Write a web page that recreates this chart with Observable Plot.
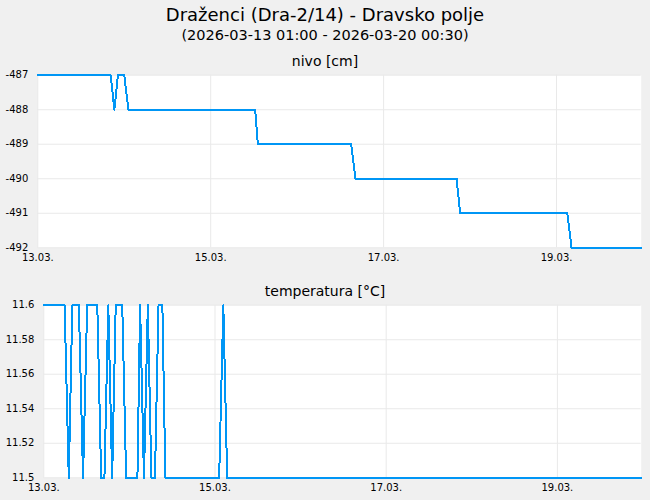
<!DOCTYPE html>
<html>
<head>
<meta charset="utf-8">
<script src="https://cdn.jsdelivr.net/npm/d3@7"></script>
<script src="https://cdn.jsdelivr.net/npm/@observablehq/plot@0.6"></script>
<style>
  html, body { margin: 0; padding: 0; background: #f0f0f0; }
  #wrap { position: relative; width: 650px; height: 500px; background: #f0f0f0; font-family: "DejaVu Sans", sans-serif; color: #000; overflow: hidden; }
  .txt { position: absolute; left: 0; width: 650px; text-align: center; white-space: nowrap; }
  .chart { position: absolute; left: 0; }
  .chart svg { background: transparent !important; }
  .chart path.ln { shape-rendering: crispEdges; }
</style>
</head>
<body>
<div id="wrap">
  <div class="txt" id="title" style="top:6px;font-size:18px;line-height:18px;"></div>
  <div class="txt" id="subtitle" style="top:28px;font-size:14.5px;line-height:14.5px;"></div>
  <div class="txt" id="t1" style="top:54px;font-size:14px;line-height:14px;"></div>
  <div class="chart" id="c1" style="top:66px;"></div>
  <div class="txt" id="t2" style="top:284px;font-size:14px;line-height:14px;"></div>
  <div class="chart" id="c2" style="top:296px;"></div>
</div>
<script>
const titleText = "Draženci (Dra-2/14) - Dravsko polje";
const subtitleText = "(2026-03-13 01:00 - 2026-03-20 00:30)";
const levelTitle = "nivo [cm]";
const tempTitle = "temperatura [°C]";

const xDomain = ["2026-03-13T00:00Z", "2026-03-19T23:30Z"];
const xTicks = ["2026-03-13T00:00Z", "2026-03-15T00:00Z", "2026-03-17T00:00Z", "2026-03-19T00:00Z"];
const xTickLabels = ["13.03.", "15.03.", "17.03.", "19.03."];

const levelTicks = [-487, -488, -489, -490, -491, -492];
const levelTimes = [
  "2026-03-13T00:00Z", "2026-03-13T20:15Z", "2026-03-13T21:15Z", "2026-03-13T22:15Z",
  "2026-03-14T00:00Z", "2026-03-14T01:10Z", "2026-03-15T12:20Z", "2026-03-15T13:05Z",
  "2026-03-16T15:00Z", "2026-03-16T16:10Z", "2026-03-17T20:15Z", "2026-03-17T21:15Z",
  "2026-03-19T03:00Z", "2026-03-19T04:10Z", "2026-03-19T23:30Z"
];
const levelValues = [
  -487, -487, -488, -487,
  -487, -488, -488, -489,
  -489, -490, -490, -491,
  -491, -492, -492
];

const tempTicks = [11.6, 11.58, 11.56, 11.54, 11.52, 11.5];
const tempTimes = [
  "2026-03-13T00:00Z", "2026-03-13T05:50Z", "2026-03-13T07:00Z", "2026-03-13T08:00Z",
  "2026-03-13T09:50Z", "2026-03-13T11:00Z", "2026-03-13T12:10Z", "2026-03-13T15:00Z",
  "2026-03-13T16:05Z", "2026-03-13T17:00Z", "2026-03-13T18:05Z", "2026-03-13T19:10Z",
  "2026-03-13T20:10Z", "2026-03-13T22:00Z", "2026-03-13T23:05Z", "2026-03-14T02:15Z",
  "2026-03-14T03:00Z", "2026-03-14T04:05Z", "2026-03-14T05:10Z", "2026-03-14T06:10Z",
  "2026-03-14T07:10Z", "2026-03-14T08:10Z", "2026-03-14T09:15Z", "2026-03-14T10:05Z",
  "2026-03-15T01:10Z", "2026-03-15T02:20Z", "2026-03-15T03:25Z", "2026-03-19T23:30Z"
];
const tempValues = [
  11.6, 11.6, 11.5, 11.6,
  11.6, 11.5, 11.6, 11.6,
  11.5, 11.5, 11.6, 11.5,
  11.6, 11.6, 11.5, 11.5,
  11.6, 11.5, 11.6, 11.5,
  11.5, 11.6, 11.6, 11.5,
  11.5, 11.6, 11.5, 11.5
];

const lineColor = "#0096f5";
const gridColor = "#e9e9e9";

document.getElementById("title").textContent = titleText;
document.getElementById("subtitle").textContent = subtitleText;
document.getElementById("t1").textContent = levelTitle;
document.getElementById("t2").textContent = tempTitle;

const parse = s => new Date(s);
const xTickDates = xTicks.map(parse);
const xLabelOf = d => xTickLabels[xTickDates.findIndex(t => +t === +d)];

function makeChart(times, values, yTicks, yDomain, marginLeft) {
  const data = times.map((t, i) => ({t: parse(t), v: values[i]}));
  return Plot.plot({
    width: 650,
    height: 200,
    marginTop: 8.7,
    marginBottom: 18.7,
    marginLeft: marginLeft,
    marginRight: 9.3,
    style: {fontFamily: "DejaVu Sans", fontSize: "10px", color: "#000", background: "transparent", overflow: "visible"},
    x: {type: "utc", domain: xDomain.map(parse)},
    y: {domain: yDomain},
    marks: [
      Plot.frame({fill: "white", stroke: null}),
      Plot.gridX(xTickDates, {stroke: gridColor, strokeOpacity: 1}),
      Plot.gridY(yTicks, {stroke: gridColor, strokeOpacity: 1}),
      Plot.axisY(yTicks, {tickSize: 0, tickPadding: 9.5, tickFormat: d => String(d), label: null, fill: "#000"}),
      Plot.axisX(xTickDates, {tickSize: 0, tickPadding: 6, tickFormat: xLabelOf, label: null, fill: "#000"}),
      Plot.line(data, {x: "t", y: "v", stroke: lineColor, strokeWidth: 2, className: "ln"})
    ]
  });
}

document.getElementById("c1").appendChild(makeChart(levelTimes, levelValues, levelTicks, [-492, -487], 37.3));
document.getElementById("c2").appendChild(makeChart(tempTimes, tempValues, tempTicks, [11.5, 11.6], 43.3));
document.querySelectorAll(".ln path, path.ln, g.ln path").forEach(p => p.style.shapeRendering = "crispEdges");
</script>
</body>
</html>
